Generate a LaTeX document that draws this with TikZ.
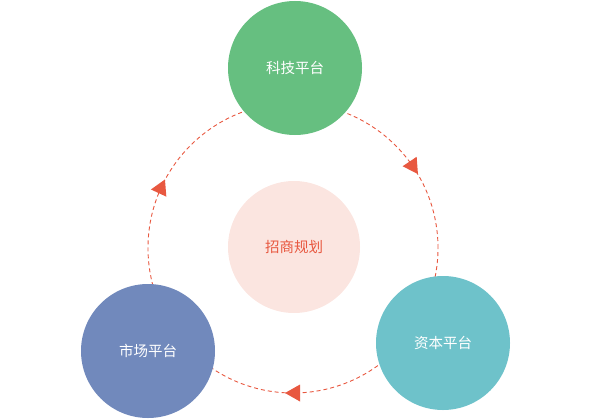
\documentclass[tikz,border=0pt]{standalone}
\usepackage{fontspec}
\usetikzlibrary{calc}
\newfontfamily\cjk{Noto Sans CJK SC}
\definecolor{cgreen}{RGB}{102,191,128}
\definecolor{cteal}{RGB}{110,194,202}
\definecolor{cblue}{RGB}{113,137,188}
\definecolor{cpink}{RGB}{251,229,224}
\definecolor{cred}{RGB}{232,88,64}
\begin{document}
\begin{tikzpicture}[x=1bp,y=1bp,
  bubble/.style={circle,minimum size=134bp,inner sep=0pt,font=\cjk\fontsize{14.5bp}{16bp}\selectfont,text=white},
  ring/.style={draw=cred,dashed,dash pattern=on 4bp off 3bp,line width=0.9bp},
  tip/.style={fill=cred}]
\useasboundingbox (0,0) rectangle (600,419);
\coordinate (o) at (293,171);
\draw[ring] (o) circle (145);
\foreach \a in {33.8,155,270}{
  \fill[tip,shift={($(o)+(\a:145)$)},rotate=\a-90] (8,0) -- (-7,8.5) -- (-7,-8.5) -- cycle;
}
\node[bubble,fill=cgreen] (tech) at (295,351) {科技平台};
\node[bubble,fill=cteal] (cap) at (443,76) {资本平台};
\node[bubble,fill=cblue] (mkt) at (148,68) {市场平台};
\node[bubble,fill=cpink,minimum size=132bp,text=cred] (plan) at (294,172) {招商规划};
\end{tikzpicture}
\end{document}
